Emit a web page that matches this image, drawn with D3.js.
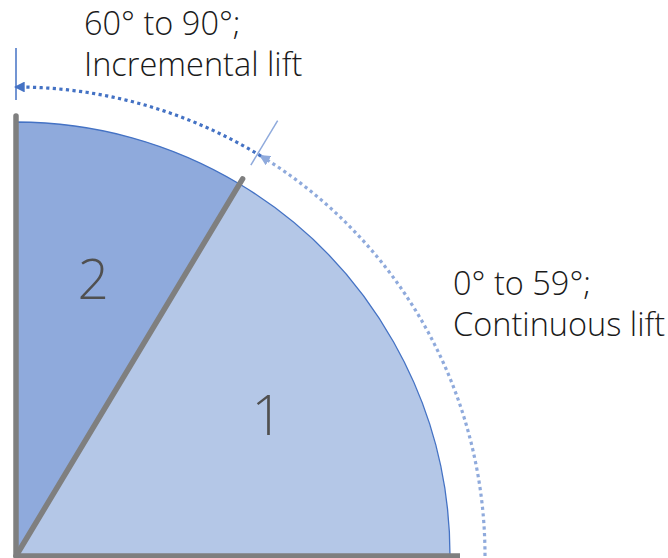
<!DOCTYPE html>
<html>
<head>
<meta charset="utf-8">
<script src="https://cdn.jsdelivr.net/npm/d3@7"></script>
<style>
  html, body { margin: 0; padding: 0; background: #ffffff; }
  svg { display: block; }
  text { font-family: "Open Sans", "Segoe UI", "Noto Sans", sans-serif; }
</style>
</head>
<body>
<svg id="chart" width="668" height="558"></svg>
<script>
// ---- data ----
const sliceLabels = ["1", "2"];
const sliceDegrees = [59, 31];              // slice 1: 0°–59°, slice 2: 60°–90°
const rangeLabels = [
  ["0° to 59°;", "Continuous lift"],
  ["60° to 90°;", "Incremental lift"]
];
const boundaryAngles = [0, 59, 90];        // gray radial lines (degrees)
const sweepArcs = [[0, 58.5], [58.5, 90]]; // dotted arcs (degrees)
const tickAngles = [59, 90];               // thin radial ticks (degrees)

// ---- layout ----
const W = 668, H = 558;
const cx = 16, cy = 556;
const R = 434;
const Rarc = 469;
const sliceColors = ["#b4c7e7", "#8faadc"];
const arcColors = ["#8faadc", "#4472c4"];

const svg = d3.select("#chart");
const g = svg.append("g").attr("transform", `translate(${cx},${cy})`);

// degrees (math, counter-clockwise from east) -> d3 arc angle (clockwise from north)
const toArcAngle = d3.scaleLinear().domain([0, 90]).range([Math.PI / 2, 0]);
// degrees -> screen angle for d3.path (clockwise from east, y down)
const toScreen = d3.scaleLinear().domain([0, 90]).range([0, -Math.PI / 2]);

// defs: arrowheads
const defs = svg.append("defs");
arcColors.forEach((c, i) => {
  defs.append("marker")
    .attr("id", "arrow" + i)
    .attr("viewBox", "0 0 10 10")
    .attr("refX", 8).attr("refY", 5)
    .attr("markerWidth", 3.4).attr("markerHeight", 3.4)
    .attr("markerUnits", "strokeWidth")
    .attr("orient", "auto")
    .append("path")
    .attr("d", "M0,0 L10,5 L0,10 Z")
    .attr("fill", c);
});

// pie
const pie = d3.pie().sort(null)
  .startAngle(toArcAngle(0)).endAngle(toArcAngle(90))
  .value(d => d);
const arcs = pie(sliceDegrees);
const arcGen = d3.arc().innerRadius(0).outerRadius(R);
g.selectAll("path.slice").data(arcs).enter().append("path")
  .attr("class", "slice")
  .attr("d", arcGen)
  .attr("fill", (d, i) => sliceColors[i])
  .attr("stroke", "#4472c4")
  .attr("stroke-width", 1.3);

// gray radial lines
boundaryAngles.forEach((a, i) => {
  const t = toScreen(a);
  const len = i === 0 ? R + 10 : R + 6;
  g.append("line")
    .attr("x1", 0).attr("y1", 0)
    .attr("x2", len * Math.cos(t)).attr("y2", len * Math.sin(t))
    .attr("stroke", "#7f7f7f")
    .attr("stroke-width", 5.5)
    .attr("stroke-linecap", i === 0 ? "butt" : "round");
});

// slice labels
const labelArc = d3.arc().innerRadius(R * 0.665).outerRadius(R * 0.665);
g.selectAll("text.slice-label").data(arcs).enter().append("text")
  .attr("class", "slice-label")
  .attr("x", d => labelArc.centroid(d)[0])
  .attr("y", d => labelArc.centroid(d)[1])
  .attr("text-anchor", "middle")
  .attr("dominant-baseline", "central")
  .attr("font-size", 55)
  .attr("font-weight", 300)
  .attr("fill", "#505050")
  .text((d, i) => sliceLabels[i]);

// dotted sweep arcs with arrows
sweepArcs.forEach((s, i) => {
  const p = d3.path();
  p.arc(0, 0, Rarc, toScreen(s[0]), toScreen(s[1]), true);
  g.append("path")
    .attr("d", p.toString())
    .attr("fill", "none")
    .attr("stroke", arcColors[i])
    .attr("stroke-width", 3.2)
    .attr("stroke-dasharray", "3.2 3.4")
    .attr("marker-end", `url(#arrow${i})`);
});

// thin radial ticks
tickAngles.forEach((a, i) => {
  const t = toScreen(a);
  g.append("line")
    .attr("x1", 456 * Math.cos(t)).attr("y1", 456 * Math.sin(t))
    .attr("x2", 508 * Math.cos(t)).attr("y2", 508 * Math.sin(t))
    .attr("stroke", arcColors[i])
    .attr("stroke-width", 1.5);
});

// range labels
const labelPos = [[453, 295], [84, 35]];
rangeLabels.forEach((lines, i) => {
  const t = svg.append("text")
    .attr("x", labelPos[i][0]).attr("y", labelPos[i][1])
    .attr("font-size", 32.5)
    .attr("font-weight", 300)
    .attr("fill", "#1a1a1a");
  lines.forEach((ln, j) => {
    t.append("tspan")
      .attr("x", labelPos[i][0])
      .attr("dy", j === 0 ? 0 : 41)
      .text(ln);
  });
});
</script>
</body>
</html>
